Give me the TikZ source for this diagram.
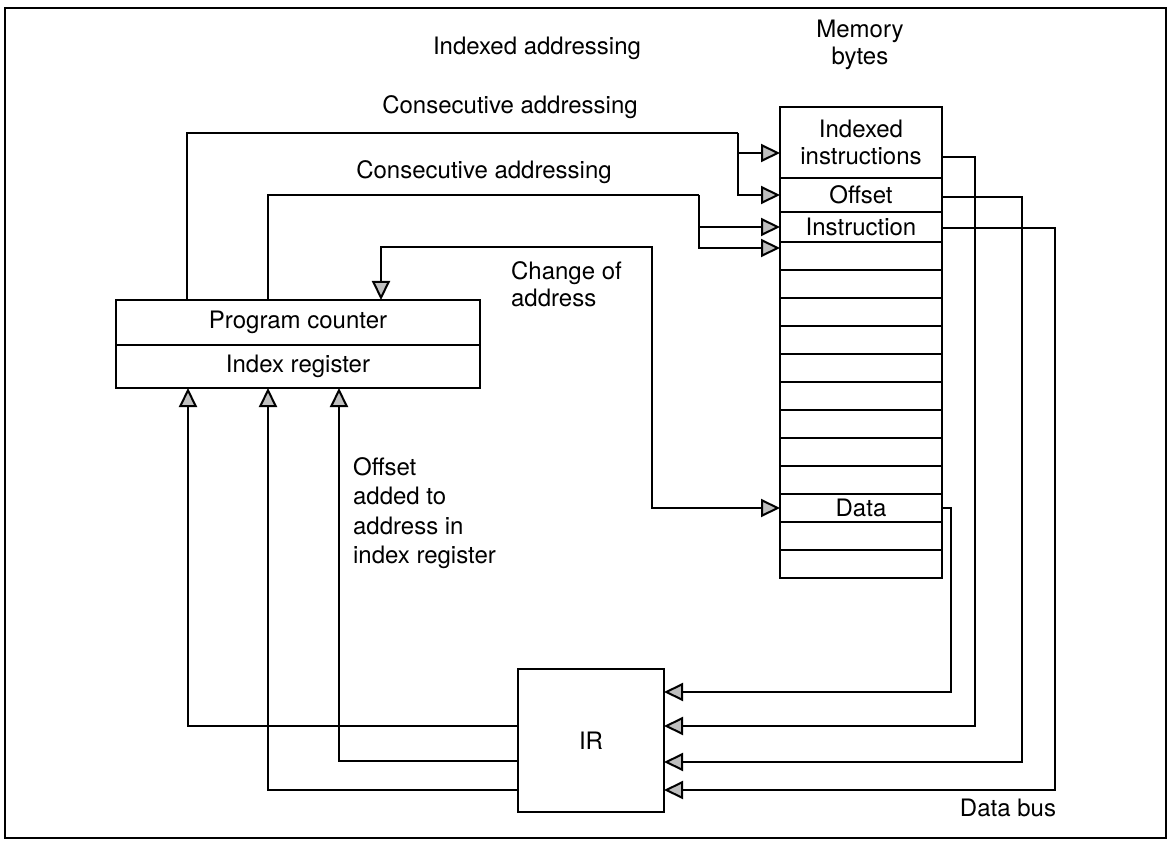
\documentclass[tikz,border=0pt]{standalone}
\usepackage{fontspec}
\setmainfont{TeX Gyre Heros}
\usetikzlibrary{arrows.meta}
\tikzset{
  every node/.style={font=\fontsize{24}{27}\selectfont},
  row/.style={draw, minimum width=162pt, inner sep=0pt, outer sep=0pt, anchor=north west},
  regbox/.style={draw, minimum width=364pt, minimum height=44pt, inner sep=0pt, outer sep=0pt, anchor=north west},
  tip/.tip={Triangle[length=19pt,width=18pt,fill=gray!50,line width=2pt]},
  arr/.style={-tip},
  arrboth/.style={tip-tip},
  lbl/.style={inner sep=0pt}
}
\begin{document}
\begin{tikzpicture}[x=1pt,y=-1pt,line width=2.2pt]
\useasboundingbox (0,0) rectangle (1168,845);
\draw (5,8) rectangle (1166,838);

% memory rows
\node[row, minimum height=71pt, align=center] (m1) at (780,107) {Indexed\\instructions};
\node[row, minimum height=34pt] (m2) at (780,178) {Offset};
\node[row, minimum height=30pt] (m3) at (780,212) {Instruction};
\foreach \i in {1,...,9}
  \node[row, minimum height=28pt] (e\i) at (780,{242+28*(\i-1)}) {};
\node[row, minimum height=28pt] (data) at (780,494) {Data};
\node[row, minimum height=28pt] (e10) at (780,522) {};
\node[row, minimum height=28pt] (e11) at (780,550) {};

% registers
\node[regbox, minimum height=45pt] (pc) at (116,300) {Program counter};
\node[regbox, minimum height=43pt] (ix) at (116,345) {Index register};

% IR
\node[draw, minimum width=146pt, minimum height=143pt, inner sep=0pt, outer sep=0pt] (ir) at (591,740.5) {IR};

% labels
\node[lbl] (tIdx) at (537,48) {Indexed addressing};
\node[lbl, align=center] (tMem) at (860,45) {Memory\\bytes};
\node[lbl] (tCon1) at (510,107) {Consecutive addressing};
\node[lbl] (tCon2) at (484,172) {Consecutive addressing};
\node[lbl, align=left, anchor=west] (tChg) at (510,284) {Change of\\address};
\node[lbl, align=left, anchor=west, font=\fontsize{24}{29.5}\selectfont] (tOff) at (352,513) {Offset\\added to\\address in\\index register};
\node[lbl] (tBus) at (1008,808) {Data bus};

% junctions
\coordinate (j1) at (738,133);
\coordinate (j2) at (699,195);
\coordinate (jc) at (652,247);

% consecutive addressing 1
\draw (pc.north -| 187,0) |- (j1);
\draw[arr] (j1) |- (m2.west);
\draw[arr] (j1 |- 0,153) -- (m1.west |- 0,153);
% consecutive addressing 2
\draw (pc.north -| 268,0) |- (j2);
\draw[arr] (j2) |- (m3.west);
\draw[arr] (j2 |- 0,227) |- (e1.west |- 0,248);
% change of address
\draw[arrboth] (pc.north -| 381,0) |- (jc) |- (data.west);

% data bus to IR
\draw[arr] (data.east) -| (951,692) -- (ir.east |- 0,692);
\draw[arr] (m1.east |- 0,157) -| (975,726) -- (ir.east |- 0,726);
\draw[arr] (m2.east |- 0,197) -| (1022,762) -- (ir.east |- 0,762);
\draw[arr] (m3.east |- 0,228) -| (1055,790) -- (ir.east |- 0,790);

% IR to registers
\draw[arr] (ir.west |- 0,726) -| (ix.south -| 188,0);
\draw[arr] (ir.west |- 0,761) -| (ix.south -| 339,0);
\draw[arr] (ir.west |- 0,790) -| (ix.south -| 268,0);
\end{tikzpicture}
\end{document}
